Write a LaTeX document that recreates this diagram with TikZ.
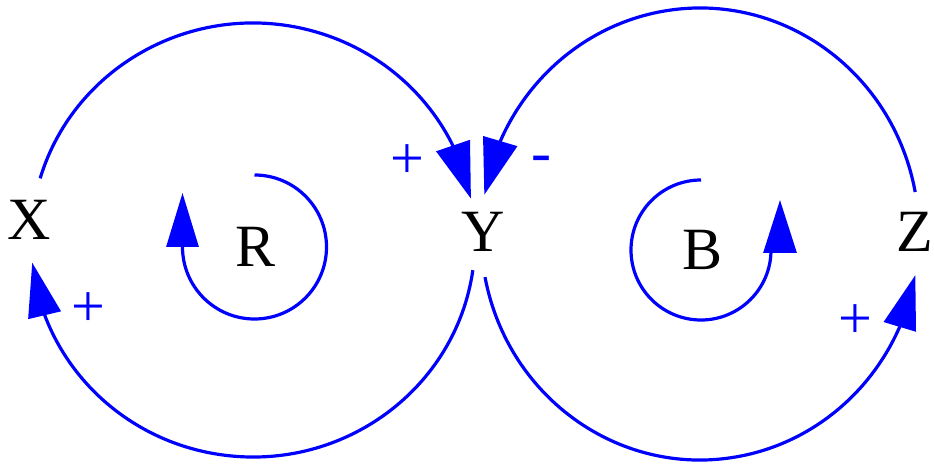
\documentclass[tikz,border=0pt]{standalone}
\usepackage{fontspec}
\setmainfont{Liberation Serif}
\usetikzlibrary{arrows.meta,bending,calc}
\definecolor{linkblue}{RGB}{0,0,255}
\tikzset{
  var/.style={inner sep=0pt, font=\fontsize{60}{60}\selectfont, text=black},
  polarity/.style={inner sep=0pt, font=\fontsize{60}{60}\selectfont, text=linkblue},
  link/.style={draw=linkblue, line width=3.2pt},
  bigtip/.style={-{Triangle[length=54pt,width=33pt]}},
  ytip/.style={-{Triangle[length=56pt,width=35pt]}},
}
\begin{document}
\begin{tikzpicture}[x=1pt,y=1pt]
\useasboundingbox (0,0) rectangle (934,464);
% variables
\node[var] (X) at (29,244) {X};
\node[var] (Y) at (483,232) {Y};
\node[var] (Z) at (915,232) {Z};
\node[var] (R) at (256,217) {R};
\node[var] (B) at (703,214) {B};
% polarities
\node[polarity] (pXY) at (407,302) {+};
\node[polarity] (pYX) at (88,154) {+};
\node[polarity] (pYZ) at (855,142) {+};
\node[polarity, anchor=base] (pZY) at (541,291) {-};
% loop centres
\coordinate (cl) at (253,224);
\coordinate (cr) at (700,230);
\coordinate (rc) at (254.5,217);
\coordinate (bc) at (701,214);
% X -> Y (top left)
\draw[link,ytip] ($(cl)+(163.5:222pt and 217pt)$)
  arc[start angle=163.5, end angle=11, x radius=222pt, y radius=217pt];
% Y -> X (bottom left)
\draw[link,bigtip] ($(cl)+(-8:222pt and 217pt)$)
  arc[start angle=-8, end angle=-174, x radius=222pt, y radius=217pt];
% Z -> Y (top right)
\draw[link,ytip] ($(cr)+(10.7:219pt and 226pt)$)
  arc[start angle=10.7, end angle=170, x radius=219pt, y radius=226pt];
% Y -> Z (bottom right)
\draw[link,bigtip] ($(cr)+(191:219pt and 226pt)$)
  arc[start angle=191, end angle=349.5, x radius=219pt, y radius=226pt];
% R loop marker
\draw[link] ($(rc)+(90:72pt)$) arc[start angle=90, end angle=-180, radius=72pt] coordinate (rend);
\draw[link,-{Triangle[length=54pt,width=32pt]}] (rend) -- ++(0,54);
% B loop marker
\draw[link] ($(bc)+(90:70pt)$) arc[start angle=90, end angle=360, radius=70pt] coordinate (bend);
\coordinate (btipbase) at (780,211);
\draw[link,-{Triangle[length=53pt,width=33pt]}] (btipbase) -- ++(0,53);
\end{tikzpicture}
\end{document}
